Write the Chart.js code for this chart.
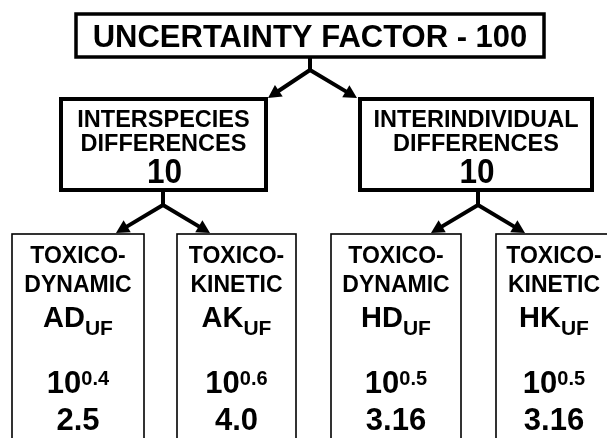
<!DOCTYPE html>
<html><head><meta charset="utf-8">
<script src="https://cdn.jsdelivr.net/npm/chart.js@4"></script>
<style>html,body{margin:0;padding:0;background:#fff;overflow:hidden}#c{display:block}</style>
</head><body><canvas id="c" width="607" height="438"></canvas>
<script>
// ---- diagram content (text / values) ----
const rootTitle = "UNCERTAINTY FACTOR - 100";
const groupTitles = [["INTERSPECIES", "DIFFERENCES"], ["INTERINDIVIDUAL", "DIFFERENCES"]];
const groupFactors = ["10", "10"];
const leafParents = [0, 0, 1, 1];
const leafKinds = [["TOXICO-", "DYNAMIC"], ["TOXICO-", "KINETIC"], ["TOXICO-", "DYNAMIC"], ["TOXICO-", "KINETIC"]];
const leafSymbols = ["AD", "AK", "HD", "HK"];
const leafSubscripts = ["UF", "UF", "UF", "UF"];
const leafBases = ["10", "10", "10", "10"];
const leafExponents = ["0.4", "0.6", "0.5", "0.5"];
const leafValues = ["2.5", "4.0", "3.16", "3.16"];

// ---- layout (axis units) ----
const layout = {
  root: { x0: 76, x1: 544, y0: 14, y1: 57, base: 47 },
  rootStemY: 70,
  rootTips: [[268, 98], [357, 98]],
  groups: [{ x0: 61, x1: 266, stem: 163 }, { x0: 360, x1: 592, stem: 478 }],
  groupY0: 99, groupY1: 190, groupBase: [127, 151, 183],
  groupStemY: 205, groupTipDx: 47, tipY: 233,
  leaves: [{ x0: 12, x1: 144 }, { x0: 177, x1: 296 }, { x0: 331, x1: 461 }, { x0: 496, x1: 612 }],
  leafY0: 234, leafY1: 470,
  leafBase: { k1: 263, k2: 292, sym: 327, sub: 335, pow: 393, exp: 385, val: 430 }
};
const FONT = "'Liberation Sans', Arial, Helvetica, sans-serif";

const diagramPlugin = {
  id: 'diagram',
  afterDraw(chart) {
    const ctx = chart.ctx;
    const sx = v => chart.scales.x.getPixelForValue(v);
    const sy = v => chart.scales.y.getPixelForValue(v);
    ctx.save();
    ctx.fillStyle = '#000';
    ctx.strokeStyle = '#000';
    ctx.lineJoin = 'miter';

    function box(x0, y0, x1, y1, lw) {
      ctx.lineWidth = lw;
      ctx.fillStyle = '#fff';
      ctx.fillRect(sx(x0), sy(y0), sx(x1) - sx(x0), sy(y1) - sy(y0));
      ctx.strokeRect(sx(x0), sy(y0), sx(x1) - sx(x0), sy(y1) - sy(y0));
      ctx.fillStyle = '#000';
    }
    function text(str, cx, base, size, scaleX) {
      const k = scaleX || 1;
      ctx.save();
      ctx.font = 'bold ' + size + 'px ' + FONT;
      ctx.textAlign = 'center';
      ctx.textBaseline = 'alphabetic';
      ctx.translate(sx(cx), sy(base));
      ctx.scale(k, 1);
      ctx.fillText(str, 0, 0);
      ctx.restore();
    }
    function pair(main, mainSize, mainBase, small, smallSize, smallBase, cx) {
      ctx.textAlign = 'left';
      ctx.textBaseline = 'alphabetic';
      ctx.font = 'bold ' + mainSize + 'px ' + FONT;
      const w1 = ctx.measureText(main).width;
      ctx.font = 'bold ' + smallSize + 'px ' + FONT;
      const w2 = ctx.measureText(small).width;
      const left = sx(cx) - (w1 + w2) / 2;
      ctx.font = 'bold ' + mainSize + 'px ' + FONT;
      ctx.fillText(main, left, sy(mainBase));
      ctx.font = 'bold ' + smallSize + 'px ' + FONT;
      ctx.fillText(small, left + w1, sy(smallBase));
    }
    function line(x0, y0, x1, y1) {
      ctx.lineWidth = 4;
      ctx.beginPath();
      ctx.moveTo(sx(x0), sy(y0));
      ctx.lineTo(sx(x1), sy(y1));
      ctx.stroke();
    }
    function arrow(x0, y0, x1, y1) {
      const X0 = sx(x0), Y0 = sy(y0), X1 = sx(x1), Y1 = sy(y1);
      const ang = Math.atan2(Y1 - Y0, X1 - X0);
      const hl = 13, hw = 7;
      const bx = X1 - hl * Math.cos(ang), by = Y1 - hl * Math.sin(ang);
      ctx.lineWidth = 4;
      ctx.lineCap = 'round';
      ctx.beginPath();
      ctx.moveTo(X0, Y0);
      ctx.lineTo(bx, by);
      ctx.stroke();
      ctx.beginPath();
      ctx.moveTo(X1, Y1);
      ctx.lineTo(bx + hw * Math.sin(ang), by - hw * Math.cos(ang));
      ctx.lineTo(bx - hw * Math.sin(ang), by + hw * Math.cos(ang));
      ctx.closePath();
      ctx.fill();
      ctx.lineCap = 'butt';
    }

    // root
    const r = layout.root;
    const rcx = (r.x0 + r.x1) / 2;
    line(rcx, r.y1, rcx, layout.rootStemY);
    layout.rootTips.forEach(t => arrow(rcx, layout.rootStemY, t[0], t[1]));
    box(r.x0, r.y0, r.x1, r.y1, 3.5);
    text(rootTitle, rcx, r.base, 31);

    // groups
    layout.groups.forEach((g, i) => {
      line(g.stem, layout.groupY1, g.stem, layout.groupStemY);
      arrow(g.stem, layout.groupStemY, g.stem - layout.groupTipDx, layout.tipY);
      arrow(g.stem, layout.groupStemY, g.stem + layout.groupTipDx, layout.tipY);
      box(g.x0, layout.groupY0, g.x1, layout.groupY1, 4);
      const cx = (g.x0 + g.x1) / 2;
      text(groupTitles[i][0], cx, layout.groupBase[0], 23.5);
      text(groupTitles[i][1], cx, layout.groupBase[1], 23.5);
      text(groupFactors[i], cx + 1, layout.groupBase[2], 35, 0.9);
    });

    // leaves
    const b = layout.leafBase;
    layout.leaves.forEach((l, i) => {
      box(l.x0, layout.leafY0, l.x1, layout.leafY1, 1.6);
      const cx = (l.x0 + l.x1) / 2;
      text(leafKinds[i][0], cx, b.k1, 23);
      text(leafKinds[i][1], cx, b.k2, 23);
      pair(leafSymbols[i], 29, b.sym, leafSubscripts[i], 21, b.sub, cx);
      pair(leafBases[i], 31, b.pow, leafExponents[i], 20, b.exp, cx);
      text(leafValues[i], cx, b.val, 31);
    });
    ctx.restore();
  }
};

new Chart(document.getElementById('c'), {
  type: 'scatter',
  data: { datasets: [{ data: [], showLine: false }] },
  options: {
    responsive: false,
    animation: false,
    events: [],
    layout: { padding: 0 },
    plugins: { legend: { display: false }, tooltip: { enabled: false } },
    scales: {
      x: { type: 'linear', min: 0, max: 607, display: false },
      y: { type: 'linear', min: 0, max: 438, reverse: true, display: false }
    }
  },
  plugins: [diagramPlugin]
});
</script>
</body></html>
